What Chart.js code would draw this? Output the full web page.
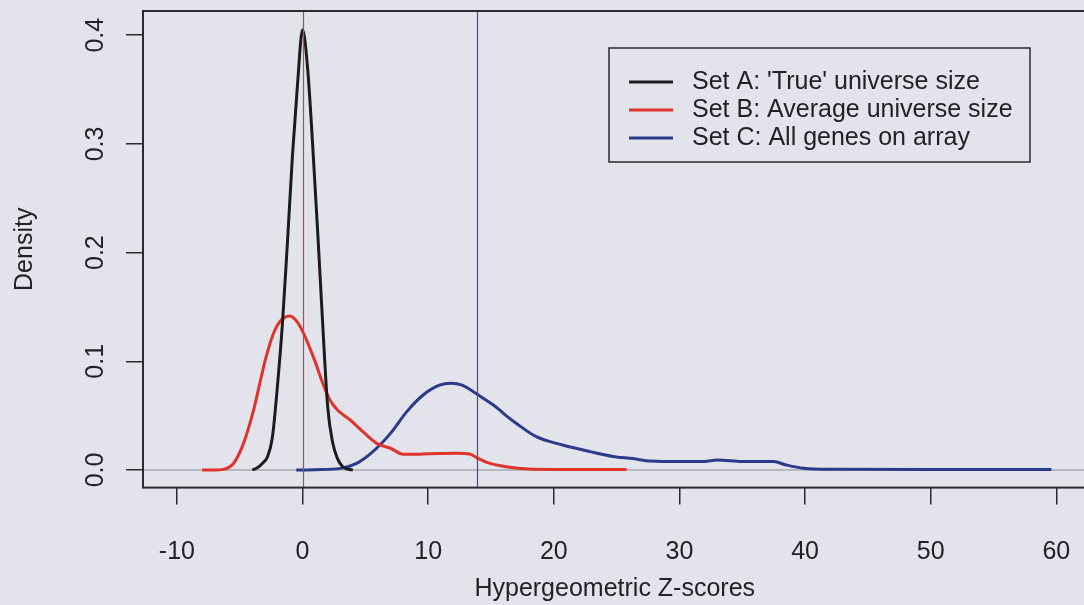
<!DOCTYPE html>
<html><head><meta charset="utf-8">
<script src="https://cdn.jsdelivr.net/npm/chart.js@4.4.1/dist/chart.umd.min.js"></script>
<style>
html,body{margin:0;padding:0;background:#e3e3ec;overflow:hidden;width:1084px;height:605px}
canvas{display:block}
</style></head><body>
<canvas id="c" width="1110" height="605" style="width:1110px;height:605px"></canvas>
<script>
// ---- data ----
const seriesNames = ["Set A: 'True' universe size", "Set B: Average universe size", "Set C: All genes on array"];
const seriesColors = ['#1c1c1e', '#e0332b', '#2b3a8a'];

const setA_x = [-4.0,-3.6,-3.2,-2.8,-2.4,-2.0,-1.6,-1.2,-0.8,-0.4,0.0,0.4,0.8,1.2,1.6,2.0,2.4,2.8,3.2,3.6,4.0];
const setA_y = [0,0.002,0.006,0.012,0.03,0.077,0.135,0.21,0.29,0.355,0.405,0.37,0.30,0.22,0.135,0.058,0.025,0.01,0.003,0.0008,0];

const setB_x = [-8.0,-7.0,-6.3,-5.5,-4.7,-3.9,-3.4,-2.9,-2.3,-1.7,-1.0,-0.35,0.3,1.0,1.6,2.2,2.8,3.8,4.8,5.9,7.0,8.0,9.0,10.0,11.0,12.3,13.3,14.0,14.8,16.2,18.0,20.0,22.0,24.0,25.8];
const setB_y = [0,0,0.0006,0.006,0.0245,0.055,0.08,0.104,0.126,0.138,0.1417,0.135,0.12,0.0997,0.08,0.064,0.055,0.046,0.0352,0.0245,0.02,0.0145,0.0145,0.015,0.0152,0.0153,0.0147,0.0105,0.0065,0.003,0.0008,0.0005,0.0005,0.0005,0.0005];

const setC_x = [-0.5,1.0,3.0,4.3,5.6,7.0,8.3,9.6,10.9,11.8,12.7,13.6,14.5,15.4,16.2,17.0,18.6,20.7,22.9,24.7,26.3,27.7,30.0,32.0,33.0,35.0,37.5,38.5,39.9,42.0,50.0,59.6];
const setC_y = [0,0.0003,0.0015,0.0061,0.0169,0.0337,0.0537,0.069,0.078,0.0797,0.078,0.072,0.065,0.058,0.050,0.043,0.0307,0.023,0.0169,0.0125,0.0105,0.0082,0.0077,0.0079,0.0092,0.0079,0.0077,0.0046,0.0015,0.0006,0.0005,0.0005];

const xTicks = [-10,0,10,20,30,40,50,60];
const xTickLabels = ['-10','0','10','20','30','40','50','60'];
const yTicks = [0,0.1,0.2,0.3,0.4];
const yTickLabels = ['0.0','0.1','0.2','0.3','0.4'];
const refLinesX = [0.05, 13.85];
const refLineColors = ['#e23a30', '#4b4b98'];
const xLimits = [-12.7, 62.4];
const yLimits = [-0.0162, 0.4223];
const xTitle = 'Hypergeometric Z-scores';
const yTitle = 'Density';

// ---- styling ----
const BG = '#e3e3ec';
const FONT = "'Liberation Sans', Arial, Helvetica, sans-serif";
const INK = '#222226';

function pts(xs, ys){ return xs.map((x,i)=>({x:x, y:ys[i]})); }

const decor = {
  id: 'decor',
  beforeDraw(chart){
    const ctx = chart.ctx;
    ctx.save(); ctx.fillStyle = BG; ctx.fillRect(0,0,chart.width,chart.height); ctx.restore();
  },
  beforeDatasetsDraw(chart){
    const {ctx, chartArea:a, scales:{y}} = chart;
    const py = y.getPixelForValue(0);
    ctx.save(); ctx.strokeStyle = '#a9a9b3'; ctx.lineWidth = 1.5;
    ctx.beginPath(); ctx.moveTo(a.left, py); ctx.lineTo(a.right, py); ctx.stroke(); ctx.restore();
  },
  afterDatasetsDraw(chart){
    const {ctx, chartArea:a, scales:{x, y}} = chart;
    ctx.save();
    // reference vertical lines
    refLinesX.forEach((v,i)=>{
      const px = Math.round(x.getPixelForValue(v)) + 0.5;
      ctx.strokeStyle = refLineColors[i]; ctx.lineWidth = 1.2;
      ctx.beginPath(); ctx.moveTo(px, a.top); ctx.lineTo(px, a.bottom); ctx.stroke();
    });
    // plot box
    ctx.strokeStyle = '#2a2a2e'; ctx.lineWidth = 2;
    ctx.strokeRect(a.left, a.top, a.right - a.left, a.bottom - a.top);
    // y tick labels (rotated, as in R)
    ctx.fillStyle = INK; ctx.font = '25px ' + FONT;
    ctx.textAlign = 'center'; ctx.textBaseline = 'middle';
    yTicks.forEach((v,i)=>{
      const py = y.getPixelForValue(v);
      ctx.save(); ctx.translate(96, py); ctx.rotate(-Math.PI/2);
      ctx.fillText(yTickLabels[i], 0, 0); ctx.restore();
    });
    // legend
    const L = 609, T = 48, R = 1030, B = 162;
    ctx.fillStyle = BG; ctx.fillRect(L, T, R-L, B-T);
    ctx.strokeStyle = '#2a2a2e'; ctx.lineWidth = 1.5;
    ctx.strokeRect(L, T, R-L, B-T);
    ctx.textAlign = 'left'; ctx.textBaseline = 'middle'; ctx.fillStyle = INK;
    chart.data.datasets.forEach((ds,i)=>{
      const ly = 82 + i*28;
      ctx.strokeStyle = ds.borderColor; ctx.lineWidth = 3;
      ctx.beginPath(); ctx.moveTo(629, ly); ctx.lineTo(673, ly); ctx.stroke();
      ctx.fillText(ds.label, 692, ly);
    });
    ctx.restore();
  }
};

const datasets = [
  {label: seriesNames[0], data: pts(setA_x, setA_y), borderColor: seriesColors[0]},
  {label: seriesNames[1], data: pts(setB_x, setB_y), borderColor: seriesColors[1]},
  {label: seriesNames[2], data: pts(setC_x, setC_y), borderColor: seriesColors[2]}
].map(d => Object.assign(d, {borderWidth: 3, pointRadius: 0, fill: false, cubicInterpolationMode: 'monotone'}));

new Chart(document.getElementById('c'), {
  type: 'line',
  data: {datasets: datasets},
  options: {
    responsive: false, animation: false, devicePixelRatio: 1,
    layout: {padding: {left: 0, top: 11, right: 23.5, bottom: 0}},
    plugins: {legend: {display: false}, tooltip: {enabled: false}},
    scales: {
      x: {
        type: 'linear', min: xLimits[0], max: xLimits[1],
        afterBuildTicks: s => { s.ticks = xTicks.map(v => ({value: v})); },
        afterFit: s => { s.height = 117.4; },
        ticks: {callback: (v, i) => xTickLabels[i], color: INK, font: {family: FONT, size: 25}, padding: 33, maxRotation: 0, autoSkip: false},
        grid: {display: true, drawOnChartArea: false, drawTicks: true, tickLength: 17, color: '#2a2a2e', lineWidth: 1.5},
        border: {display: false},
        title: {display: true, text: xTitle, color: INK, font: {family: FONT, size: 25}, padding: {top: 0, bottom: 1}}
      },
      y: {
        type: 'linear', min: yLimits[0], max: yLimits[1],
        afterBuildTicks: s => { s.ticks = yTicks.map(v => ({value: v})); },
        afterFit: s => { s.width = 143; },
        ticks: {display: false},
        grid: {display: true, drawOnChartArea: false, drawTicks: true, tickLength: 17, color: '#2a2a2e', lineWidth: 1.5},
        border: {display: false},
        title: {display: true, text: yTitle, color: INK, font: {family: FONT, size: 25}, padding: {top: 10, bottom: 0}}
      }
    }
  },
  plugins: [decor]
});
</script>
</body></html>
